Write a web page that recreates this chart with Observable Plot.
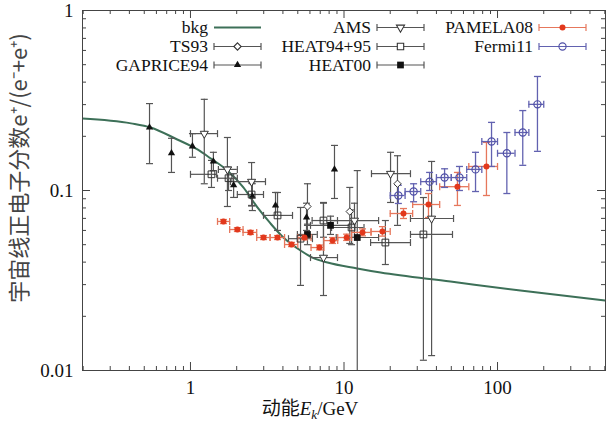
<!DOCTYPE html>
<html><head><meta charset="utf-8">
<script src="https://cdn.jsdelivr.net/npm/d3@7"></script>
<script src="https://cdn.jsdelivr.net/npm/@observablehq/plot@0.6"></script>
<style>
body{margin:0;background:#fff;}
#wrap{position:relative;width:606px;height:429px;}
</style></head><body><div id="wrap"></div>
<script>
// ---- data ----
const bkgE = [0.198,0.41,0.55,0.82,1.11,1.35,1.74,2.21,2.73,3.32,4.03,5.21,6.23,7.81,12.2,17.3,49.4,141,505];
const bkgF = [0.251,0.236,0.224,0.192,0.169,0.151,0.129,0.104,0.0805,0.0656,0.0548,0.0464,0.0424,0.0398,0.0369,0.035,0.0312,0.0278,0.0245];

const gapE  = [0.541,0.752,1.03,1.41,1.91,2.53,3.58,5.70,8.67];
const gapF  = [0.224,0.161,0.176,0.145,0.107,0.0927,0.0826,0.0708,0.131];
const gapLo = [0.141,0.126,0.153,0.129,0.0915,0.0774,0.0727,0.060,0.0903];
const gapHi = [0.304,0.195,0.207,0.163,0.124,0.109,0.0975,0.085,0.178];

const tsE  = [5.78,10.9,22.3];
const tsF  = [0.0815,0.0764,0.109];
const tsLo = [0.064,0.0508,0.064];
const tsHi = [0.109,0.104,0.156];

const amsE   = [1.23,1.74,2.50,7.35,11.7,20.1,37.2];
const amsF   = [0.207,0.131,0.112,0.0424,0.0681,0.124,0.0699];
const amsLo  = [0.109,0.0815,0.0826,0.0261,0.055,0.0858,0.0121];
const amsHi  = [0.321,0.197,0.143,0.0858,0.085,0.163,0.145];
const amsXlo = [1.0,1.52,1.82,6.05,8.17,15.1,27.1];
const amsXhi = [1.5,2.02,3.08,9.07,16.8,27.1,51.7];

const h95E   = [1.37,1.77,2.50,3.69,5.21,7.35,11.2,18.6,32.9];
const h95F   = [0.123,0.117,0.095,0.0727,0.054,0.0681,0.0623,0.0514,0.057];
const h95Lo  = [0.104,0.100,0.082,0.060,0.0297,0.055,0.050,0.0388,0.0114];
const h95Hi  = [0.147,0.135,0.11,0.0975,0.0805,0.085,0.078,0.0681,0.0914];
const h95Xlo = [1.0,1.50,2.02,2.99,4.35,6.2,8.3,14.9,27.1];
const h95Xhi = [1.48,2.02,2.99,4.62,6.23,9.07,13.5,27.1,50.9];

const h00E   = [5.78,8.17,12.2];
const h00F   = [0.057,0.064,0.0548];
const h00Lo  = [0.050,0.057,0.003];
const h00Hi  = [0.065,0.072,0.129];
const h00Xlo = [4.97,6.05,8.9];
const h00Xhi = [6.7,10.9,16.8];

const pamE   = [1.64,2.02,2.46,2.99,3.69,4.55,5.53,6.92,8.42,10.4,13.2,17.8,24.4,35.5,54.8,84.7];
const pamF   = [0.0673,0.0607,0.0585,0.0548,0.0548,0.0501,0.0548,0.0482,0.0527,0.0548,0.0585,0.0592,0.0745,0.0836,0.105,0.136];
const pamLo  = [0.0655,0.0592,0.057,0.0534,0.0534,0.0488,0.0532,0.0468,0.0508,0.0528,0.056,0.0558,0.0699,0.0708,0.0826,0.0938];
const pamHi  = [0.069,0.0622,0.060,0.0562,0.0562,0.0515,0.0565,0.0498,0.0548,0.0572,0.0612,0.063,0.0794,0.0962,0.126,0.185];
const pamXlo = [1.5,1.8,2.2,2.7,3.3,4.1,5.0,6.1,7.4,9.1,11.2,15,20,28,42,65];
const pamXhi = [1.8,2.2,2.7,3.3,4.1,5.0,6.1,7.4,9.1,11.2,15,20,28,42,65,100];

const ferE   = [22.6,28.4,36.1,45.2,56.5,71.9,91.4,115,146,182];
const ferF   = [0.0938,0.0987,0.112,0.118,0.118,0.131,0.187,0.161,0.21,0.301];
const ferLo  = [0.0847,0.0866,0.1,0.104,0.1,0.0987,0.136,0.0962,0.138,0.165];
const ferHi  = [0.107,0.109,0.126,0.132,0.136,0.163,0.239,0.21,0.278,0.43];
const ferXlo = [20,25,31.6,40,50,63,79,100,130,160];
const ferXhi = [25,31.6,40,50,63,79,100,130,160,200];

const xMajor = [1,10,100];
const xMinor = [0.2,0.3,0.4,0.5,0.6,0.7,0.8,0.9,2,3,4,5,6,7,8,9,20,30,40,50,60,70,80,90,200,300,400,500];
const yMajor = [0.1];
const yMinor = [0.02,0.03,0.04,0.05,0.06,0.07,0.08,0.09,0.2,0.3,0.4,0.5,0.6,0.7,0.8,0.9];

// ---- helpers ----
function rows(E,F,lo,hi,xlo,xhi){
  return E.map((e,i)=>({E:e,F:F[i],lo:lo?lo[i]:null,hi:hi?hi[i]:null,xlo:xlo?xlo[i]:null,xhi:xhi?xhi[i]:null}));
}
const hcap = {draw(c){c.moveTo(-3.5,0);c.lineTo(3.5,0);}};
const vcap = {draw(c){c.moveTo(0,-3.5);c.lineTo(0,3.5);}};

function errMarks(data, color, sw, withX){
  const m = [
    Plot.ruleX(data,{x:"E",y1:"lo",y2:"hi",stroke:color,strokeWidth:sw,clip:true}),
    Plot.dot(data,{x:"E",y:"lo",symbol:hcap,stroke:color,strokeWidth:sw,clip:true}),
    Plot.dot(data,{x:"E",y:"hi",symbol:hcap,stroke:color,strokeWidth:sw,clip:true})
  ];
  if(withX){
    m.push(Plot.ruleY(data,{y:"F",x1:"xlo",x2:"xhi",stroke:color,strokeWidth:sw,clip:true}));
    m.push(Plot.dot(data,{x:"xlo",y:"F",symbol:vcap,stroke:color,strokeWidth:sw,clip:true}));
    m.push(Plot.dot(data,{x:"xhi",y:"F",symbol:vcap,stroke:color,strokeWidth:sw,clip:true}));
  }
  return m;
}

const bkg = bkgE.map((e,i)=>({E:e,F:bkgF[i]}));
const gap = rows(gapE,gapF,gapLo,gapHi);
const ts  = rows(tsE,tsF,tsLo,tsHi);
const ams = rows(amsE,amsF,amsLo,amsHi,amsXlo,amsXhi);
const h95 = rows(h95E,h95F,h95Lo,h95Hi,h95Xlo,h95Xhi);
const h00 = rows(h00E,h00F,h00Lo,h00Hi,h00Xlo,h00Xhi);
const pam = rows(pamE,pamF,pamLo,pamHi,pamXlo,pamXhi);
const fer = rows(ferE,ferF,ferLo,ferHi,ferXlo,ferXhi);

const W=606,H=429,ML=82,MR=1,MT=10,MB=59;
const PW=W-ML-MR, PH=H-MT-MB;
const BLK="#555", PAMC="#e2381c", PAMB="#e6775c", FERC="#4e4ea6", FERB="#6262b0", GRN="#3d7058";

const plot = Plot.plot({
  width:W,height:H,marginLeft:ML,marginRight:MR,marginTop:MT,marginBottom:MB,
  x:{type:"log",domain:[0.198,505],ticks:xMajor,tickFormat:d=>String(d),tickSize:0,tickPadding:10,label:null},
  y:{type:"log",domain:[0.01,1],ticks:[0.01,0.1,1],tickFormat:d=>String(d),tickSize:0,tickPadding:9,label:null},
  style:{fontFamily:"'Liberation Serif', serif",fontSize:"19px",color:"#111",background:"#fff",overflow:"visible"},
  marks:[
    Plot.tickX(xMajor,{x:d=>d,insetTop:PH-8,stroke:"#444"}),
    Plot.tickX(xMajor,{x:d=>d,insetBottom:PH-8,stroke:"#444"}),
    Plot.tickX(xMinor,{x:d=>d,insetTop:PH-4,stroke:"#444"}),
    Plot.tickX(xMinor,{x:d=>d,insetBottom:PH-4,stroke:"#444"}),
    Plot.tickY(yMajor,{y:d=>d,insetRight:PW-8,stroke:"#444"}),
    Plot.tickY(yMajor,{y:d=>d,insetLeft:PW-8,stroke:"#444"}),
    Plot.tickY(yMinor,{y:d=>d,insetRight:PW-4,stroke:"#444"}),
    Plot.tickY(yMinor,{y:d=>d,insetLeft:PW-4,stroke:"#444"}),
    Plot.line(bkg,{x:"E",y:"F",stroke:GRN,strokeWidth:2,curve:"monotone-x",clip:true}),
    ...errMarks(gap,BLK,1.2,false),
    ...errMarks(ts,BLK,1.2,false),
    ...errMarks(ams,BLK,1.2,true),
    ...errMarks(h95,BLK,1.2,true),
    ...errMarks(h00,BLK,1.2,true),
    ...errMarks(pam,PAMB,1.3,true),
    ...errMarks(fer,FERB,1.3,true),
    Plot.dot(gap,{x:"E",y:"F",symbol:"triangle",r:2.7,fill:"#111",stroke:"none"}),
    Plot.dot(ts,{x:"E",y:"F",symbol:"diamond2",r:3.3,fill:"#fff",stroke:"#333",strokeWidth:1}),
    Plot.dot(ams,{x:"E",y:"F",symbol:"triangle",rotate:180,r:3,fill:"#fff",stroke:"#333",strokeWidth:1}),
    Plot.dot(h95,{x:"E",y:"F",symbol:"square",r:3.8,fill:"none",stroke:"#333",strokeWidth:1}),
    Plot.dot(h00,{x:"E",y:"F",symbol:"square",r:3.8,fill:"#111",stroke:"none"}),
    Plot.dot(pam,{x:"E",y:"F",symbol:"circle",r:3,fill:PAMC,stroke:"none"}),
    Plot.dot(fer,{x:"E",y:"F",symbol:"circle",r:3.6,fill:"none",stroke:FERC,strokeWidth:1.2}),
    Plot.frame({stroke:"#444"})
  ]
});
document.getElementById("wrap").appendChild(plot);

// ---- legend & axis titles ----
const svg = d3.select(plot);
const leg = svg.append("g").attr("font-family","'Liberation Serif', serif").attr("font-size",17.5).attr("fill","#111");
const legend = [
  {label:"bkg",tx:208,y:27.5,kind:"line"},
  {label:"TS93",tx:208,y:46.5,kind:"err",sym:d3.symbolDiamond2,fill:"#fff",stroke:"#333",col:BLK,r:3.3},
  {label:"GAPRICE94",tx:208,y:65,kind:"err",sym:d3.symbolTriangle,fill:"#111",stroke:"none",col:BLK,r:2.7},
  {label:"AMS",tx:371,y:27.5,kind:"err",sym:d3.symbolTriangle,rot:180,fill:"#fff",stroke:"#333",col:BLK,r:3},
  {label:"HEAT94+95",tx:371,y:46.5,kind:"err",sym:d3.symbolSquare,fill:"#fff",stroke:"#333",col:BLK,r:3.6},
  {label:"HEAT00",tx:371,y:65,kind:"err",sym:d3.symbolSquare,fill:"#111",stroke:"none",col:BLK,r:3.8},
  {label:"PAMELA08",tx:533,y:27.5,kind:"err",sym:d3.symbolCircle,fill:PAMC,stroke:"none",col:PAMB,r:3},
  {label:"Fermi11",tx:533,y:46.5,kind:"err",sym:d3.symbolCircle,fill:"none",stroke:FERC,col:FERB,r:3.6}
];
legend.forEach(d=>{
  leg.append("text").attr("x",d.tx).attr("y",d.y).attr("dy","0.33em").attr("text-anchor","end").text(d.label);
  const x1=d.tx+6, x2=x1+47, xc=(x1+x2)/2;
  if(d.kind==="line"){
    leg.append("line").attr("x1",x1).attr("x2",x2).attr("y1",d.y).attr("y2",d.y).attr("stroke",GRN).attr("stroke-width",2);
  } else {
    leg.append("line").attr("x1",x1).attr("x2",x2).attr("y1",d.y).attr("y2",d.y).attr("stroke",d.col).attr("stroke-width",1.2);
    [x1,x2].forEach(x=>leg.append("line").attr("x1",x).attr("x2",x).attr("y1",d.y-3.5).attr("y2",d.y+3.5).attr("stroke",d.col).attr("stroke-width",1.2));
    const r=d.r||4;
    leg.append("path").attr("d",d3.symbol(d.sym,Math.PI*r*r)())
      .attr("transform",`translate(${xc},${d.y}) rotate(${d.rot||0})`)
      .attr("fill",d.fill).attr("stroke",d.stroke).attr("stroke-width",1.1);
  }
});

const xl = svg.append("text").attr("x",310).attr("y",415).attr("text-anchor","middle").attr("font-size",19).attr("fill","#111");
xl.append("tspan").attr("font-family","'Noto Sans CJK SC', sans-serif").text("动能");
xl.append("tspan").attr("font-family","'Liberation Serif', serif").attr("font-style","italic").text("E");
xl.append("tspan").attr("font-family","'Liberation Serif', serif").attr("font-style","italic").attr("font-size",13).attr("dy",4).text("k");
xl.append("tspan").attr("font-family","'Liberation Serif', serif").attr("dy",-4).text("/GeV");

svg.append("text").attr("transform","translate(19,168) rotate(-90)").attr("text-anchor","middle").attr("dy","0.35em")
  .attr("font-family","'Noto Sans CJK SC', sans-serif").attr("font-size",22).attr("fill","#444")
  .text("宇宙线正电子分数e⁺/(e⁻+e⁺)");
</script></body></html>
